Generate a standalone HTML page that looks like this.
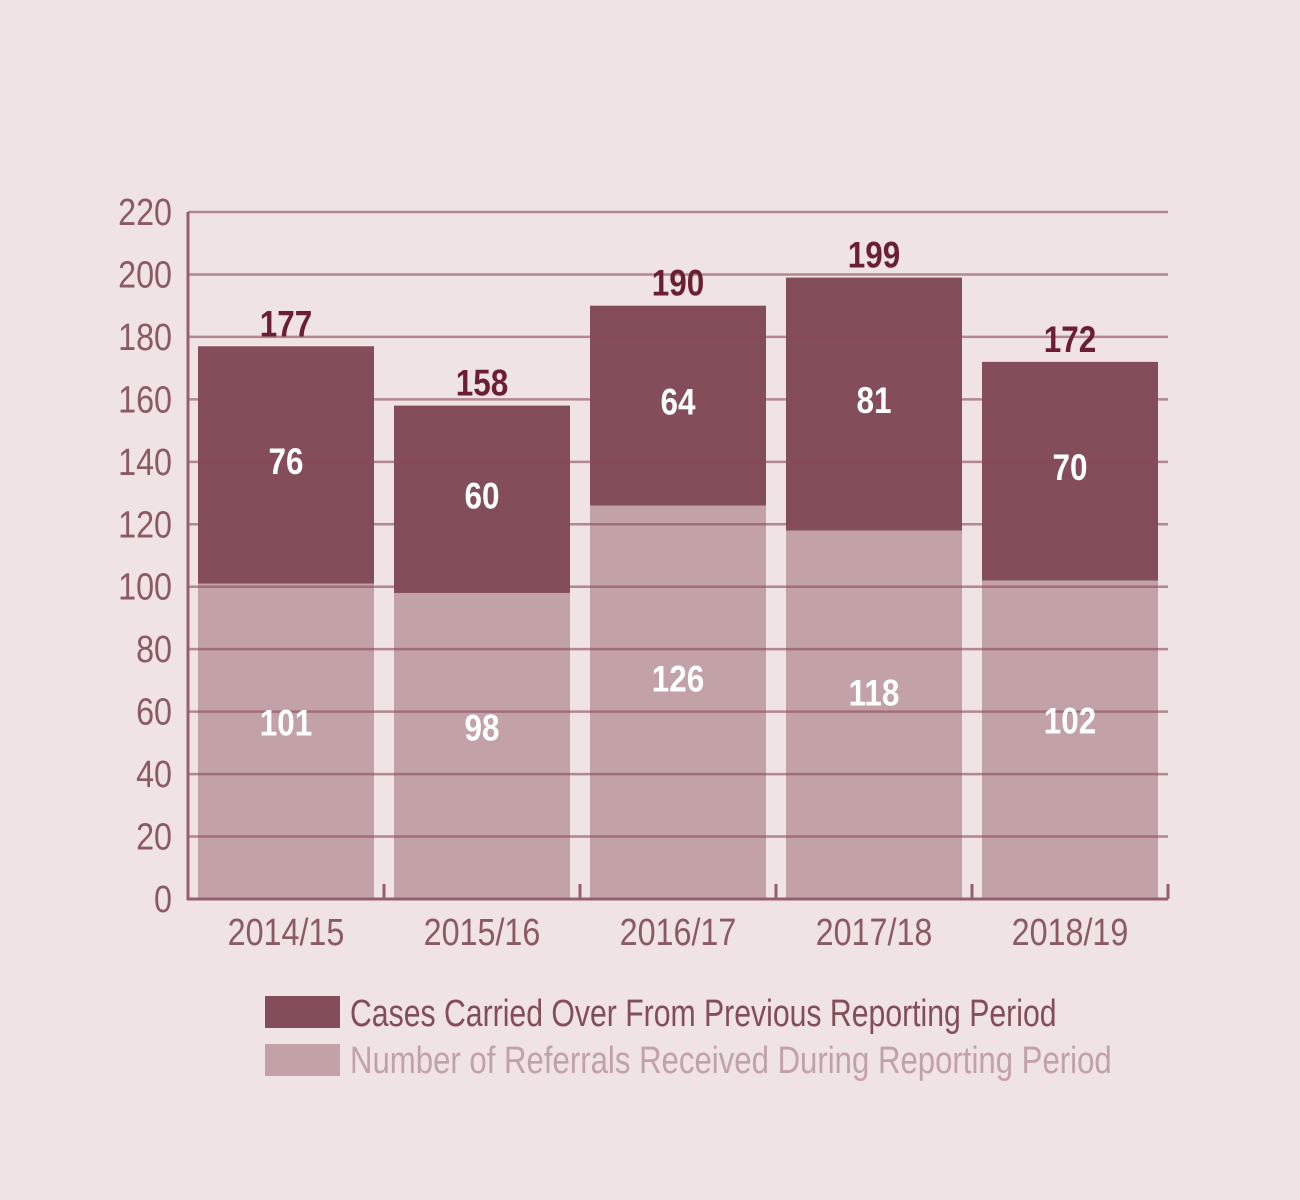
<!DOCTYPE html>
<html><head><meta charset="utf-8"><style>
html,body{margin:0;padding:0;background:#efe3e3;}
svg{display:block;font-family:"Liberation Sans",sans-serif;}
</style></head><body>
<svg id="chart" width="1300" height="1200">
<rect width="1300" height="1200" fill="#efe3e3"/>
<g id="bars"></g><g id="grid"></g><g id="labels"></g><g id="axis"></g>
<g>
<rect x="265" y="996" width="75" height="32" fill="#834d59"/>
<text x="350" y="1026" font-size="38" fill="#834d59" transform="translate(350 0) scale(0.795 1) translate(-350 0)">Cases Carried Over From Previous Reporting Period</text>
<rect x="265" y="1044" width="75" height="32" fill="#c2a2a7"/>
<text x="350" y="1073" font-size="38" fill="#c2a2a7" transform="translate(350 0) scale(0.82 1) translate(-350 0)">Number of Referrals Received During Reporting Period</text>
</g>
</svg>
<script>
const categories=["2014/15","2015/16","2016/17","2017/18","2018/19"];
const referrals=[101,98,126,118,102];
const carried=[76,60,64,81,70];
const yTicks=[0,20,40,60,80,100,120,140,160,180,200,220];
const NS="http://www.w3.org/2000/svg";
const x0=188,x1=1168,yBase=899,yTop=212,yMax=220;
const band=(x1-x0)/categories.length;
const y=v=>yBase-(v/yMax)*(yBase-yTop);
function mk(tag,attrs,parent,text){const e=document.createElementNS(NS,tag);for(const k in attrs)e.setAttribute(k,attrs[k]);if(text!==undefined)e.textContent=text;document.getElementById(parent).appendChild(e);return e;}
function cond(e,cx){e.setAttribute('transform',`translate(${cx} 0) scale(0.85 1) translate(${-cx} 0)`);}
categories.forEach((c,i)=>{
  const bx=x0+i*band+10,bw=band-20,cx=x0+i*band+band/2;
  const tot=referrals[i]+carried[i];
  let r=mk('rect',{x:bx,y:y(referrals[i]),width:bw,height:yBase-y(referrals[i]),fill:'#c2a2a7'},'bars');
  
  
  r=mk('rect',{x:bx,y:y(tot),width:bw,height:y(referrals[i])-y(tot),fill:'#834d59'},'bars');
  
  
  let t=mk('text',{x:cx,y:y(referrals[i]*0.56)+13,'text-anchor':'middle','font-size':37,'font-weight':'bold',fill:'#ffffff'},'labels',referrals[i]);cond(t,cx);
  
  
  t=mk('text',{x:cx,y:(y(referrals[i])+y(tot))/2+9,'text-anchor':'middle','font-size':37,'font-weight':'bold',fill:'#ffffff'},'labels',carried[i]);cond(t,cx);
  
  
  t=mk('text',{x:cx,y:y(tot)-10,'text-anchor':'middle','font-size':37,'font-weight':'bold',fill:'#6b1f33'},'labels',tot);cond(t,cx);
  
  
  t=mk('text',{x:cx,y:945,'text-anchor':'middle','font-size':38,fill:'#8b5a63'},'axis',c);cond(t,cx);
  
  
});
yTicks.forEach(v=>{
  if(v>0){const l=mk('line',{x1:x0,x2:x1,y1:y(v),y2:y(v),stroke:'#8b4a58','stroke-width':2.5,'stroke-opacity':0.6},'grid');
  
  }
  const t=mk('text',{x:172,y:y(v)+13,'text-anchor':'end','font-size':38,fill:'#8b5a63'},'axis',v);cond(t,172);
  
  
});
let a=mk('line',{x1:x0,x2:x0,y1:yTop,y2:yBase+1,stroke:'#955f6b','stroke-width':3},'axis');


a=mk('line',{x1:x0-1,x2:x1,y1:yBase,y2:yBase,stroke:'#955f6b','stroke-width':3},'axis');


for(let i=1;i<=categories.length;i++){
  const tk=mk('line',{x1:x0+i*band,x2:x0+i*band,y1:yBase-15,y2:yBase,stroke:'#955f6b','stroke-width':3},'axis');
  
  
}
</script>
</body></html>
